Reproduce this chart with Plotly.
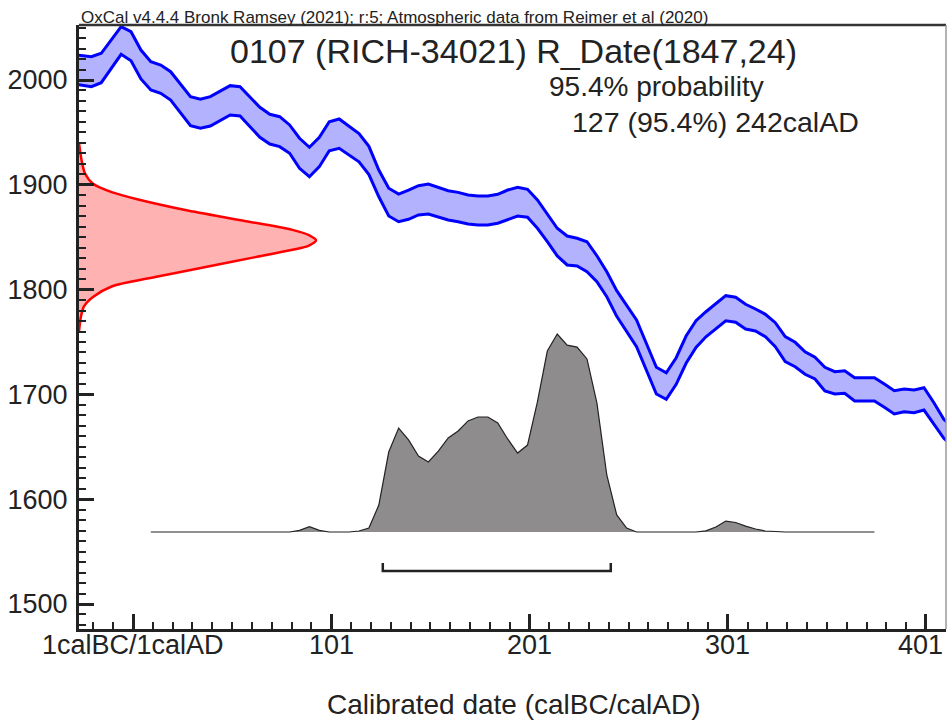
import plotly.graph_objects as go

# ---------------- data ----------------
# Calibration curve (IntCal20 band), calendar year vs radiocarbon age
curve_years = [-30, -20, -15, -5, 0, 5, 10, 15, 20, 30, 35, 40, 50, 55, 65, 70, 75, 80, 85, 90,
               95, 100, 105, 110, 115, 120, 125, 130, 135, 140, 145, 150, 155, 160, 165, 170,
               175, 180, 185, 190, 195, 200, 205, 210, 215, 220, 225, 230, 235, 240, 245, 255,
               260, 265, 270, 275, 280, 285, 290, 295, 300, 305, 310, 315, 320, 325, 330, 335,
               340, 345, 350, 355, 360, 365, 370, 375, 380, 385, 390, 395, 400, 405, 410, 415]
curve_upper = [2024.5, 2022.2, 2025.5, 2050.9, 2046.1, 2028.6, 2017.5, 2014.3, 2007.9, 1984.1,
               1981.6, 1984.1, 1994.6, 1993.6, 1973.9, 1967.3, 1965.0, 1957.1, 1944.4, 1935.8,
               1945.3, 1960.2, 1962.8, 1955.4, 1948.8, 1936.7, 1914.1, 1896.7, 1891.2, 1895.0,
               1899.1, 1900.8, 1897.6, 1894.4, 1892.8, 1890.3, 1889.3, 1889.3, 1890.9, 1895.0,
               1897.6, 1895.7, 1885.5, 1872.1, 1858.5, 1851.1, 1849.0, 1845.7, 1832.3, 1817.1,
               1799.0, 1771.0, 1748.8, 1725.9, 1720.7, 1735.0, 1755.7, 1770.3, 1778.9, 1786.9,
               1794.2, 1792.7, 1786.0, 1781.5, 1776.4, 1768.4, 1755.1, 1749.7, 1740.7, 1735.4,
               1725.9, 1721.7, 1722.6, 1715.9, 1715.9, 1715.9, 1709.9, 1703.5, 1705.2, 1704.2,
               1706.4, 1692.1, 1676.2, 1668.0]
curve_lower = [1996.5, 1993.6, 1997.4, 2024.5, 2018.4, 2001.0, 1990.5, 1987.3, 1980.9, 1956.4,
               1953.9, 1956.1, 1966.6, 1965.6, 1945.3, 1938.9, 1936.4, 1930.1, 1915.7, 1907.7,
               1917.3, 1932.5, 1934.8, 1928.4, 1922.0, 1909.8, 1888.6, 1870.2, 1864.8, 1867.1,
               1871.2, 1872.1, 1869.6, 1866.4, 1864.8, 1862.6, 1861.6, 1861.6, 1863.3, 1867.1,
               1870.2, 1869.0, 1858.5, 1845.7, 1832.1, 1823.5, 1822.5, 1817.1, 1807.5, 1793.2,
               1774.5, 1745.5, 1723.3, 1700.4, 1695.3, 1709.6, 1729.7, 1744.9, 1755.0, 1763.0,
               1770.3, 1768.8, 1762.4, 1760.5, 1755.0, 1745.5, 1731.2, 1726.4, 1719.2, 1714.7,
               1703.2, 1700.4, 1701.0, 1693.7, 1693.7, 1693.7, 1687.7, 1681.3, 1683.5, 1682.5,
               1685.1, 1671.5, 1658.1, 1650.0]

# Radiocarbon measurement R_Date(1847,24): age vs relative density
c14_age = [1940, 1930, 1920, 1911, 1901, 1893, 1886, 1876, 1866, 1857, 1852, 1847, 1842,
           1838, 1831, 1822, 1812, 1803, 1793, 1784, 1774, 1760]
c14_density = [0.0, 0.006, 0.014, 0.025, 0.059, 0.138, 0.25, 0.448, 0.689, 0.90, 0.97, 1.0,
               0.97, 0.90, 0.744, 0.545, 0.321, 0.138, 0.059, 0.021, 0.008, 0.0]

# Calibrated date distribution: calendar year vs relative probability
cal_years = [10, 80, 85, 90, 95, 100, 110, 115, 120, 125, 130, 135, 140, 145, 150, 155, 160,
             165, 170, 175, 180, 185, 190, 195, 200, 205, 210, 215, 220, 225, 230, 235, 240,
             245, 250, 255, 260, 285, 290, 295, 300, 305, 310, 315, 320, 330, 375]
cal_prob = [0.0, 0.0, 0.008, 0.027, 0.008, 0.0, 0.0, 0.005, 0.02, 0.136, 0.404, 0.525, 0.465,
            0.384, 0.354, 0.409, 0.475, 0.51, 0.561, 0.581, 0.581, 0.551, 0.47, 0.399, 0.439,
            0.657, 0.914, 1.0, 0.944, 0.934, 0.874, 0.652, 0.288, 0.086, 0.02, 0.0, 0.0, 0.0,
            0.006, 0.025, 0.055, 0.048, 0.03, 0.015, 0.005, 0.0, 0.0]

# 95.4% range
range_start = 127
range_end = 242

x_tickvals = [1, 101, 201, 301, 401]
x_ticktext = ["1calBC/1calAD", "101", "201", "301", "401"]
y_tickvals = [1500, 1600, 1700, 1800, 1900, 2000]
y_ticktext = ["1500", "1600", "1700", "1800", "1900", "2000"]

title_top = "OxCal v4.4.4 Bronk Ramsey (2021); r:5; Atmospheric data from Reimer et al (2020)"
title_main = "0107 (RICH-34021) R_Date(1847,24)"
prob_label = "95.4% probability"
range_label = "127 (95.4%) 242calAD"
x_title = "Calibrated date (calBC/calAD)"

# ---------------- figure ----------------
FONT = "Liberation Sans, Arial, sans-serif"
INK = "#222222"
X_MIN, X_MAX = -26.24, 411.1

fig = go.Figure()

# calibration curve band
fig.add_trace(go.Scatter(x=curve_years, y=curve_lower, mode="lines",
                         line=dict(color="#0000ff", width=3), hoverinfo="skip"))
fig.add_trace(go.Scatter(x=curve_years, y=curve_upper, mode="lines",
                         line=dict(color="#0000ff", width=3), fill="tonexty",
                         fillcolor="rgba(0,0,255,0.30)", hoverinfo="skip"))

# radiocarbon date distribution on y axis
fig.add_trace(go.Scatter(x=c14_density, y=c14_age, xaxis="x2", yaxis="y", mode="lines",
                         line=dict(color="#ff0000", width=2.5, shape="spline", smoothing=0.8),
                         fill="tozerox", fillcolor="rgba(255,0,0,0.30)", hoverinfo="skip"))

# calibrated distribution
fig.add_trace(go.Scatter(x=cal_years, y=cal_prob, xaxis="x", yaxis="y2", mode="lines",
                         line=dict(color=INK, width=1.2), fill="tozeroy",
                         fillcolor="#8e8c8d", hoverinfo="skip"))

# 95.4% range bracket
fig.add_trace(go.Scatter(x=[range_start, range_start, range_end, range_end],
                         y=[-0.157, -0.197, -0.197, -0.157], xaxis="x", yaxis="y2",
                         mode="lines", line=dict(color=INK, width=2.5), hoverinfo="skip"))

axis_common = dict(
    ticks="inside", ticklen=15, tickwidth=2.5, tickcolor=INK,
    showline=True, linewidth=3, linecolor=INK,
    showgrid=False, zeroline=False,
    tickfont=dict(family=FONT, size=27, color=INK),
)

# x tick labels drawn as annotations (placed close to the axis, last one kept inside page)
xtick_annotations = []
for i, (v, t) in enumerate(zip(x_tickvals, x_ticktext)):
    last = i == len(x_tickvals) - 1
    xtick_annotations.append(dict(
        text=t, xref="paper" if last else "x", yref="paper",
        x=1 if last else v, y=-0.0257,
        xanchor="right" if last else "center", yanchor="middle",
        xshift=-1 if last else 0, showarrow=False,
        font=dict(family=FONT, size=27, color=INK)))

fig.update_layout(
    width=947, height=720,
    margin=dict(l=79, r=1, t=25, b=91, pad=0),
    paper_bgcolor="white", plot_bgcolor="white",
    showlegend=False,
    xaxis=dict(range=[X_MIN, X_MAX], tickmode="array", tickvals=x_tickvals,
               showticklabels=False,
               minor=dict(ticks="inside", ticklen=7, tickwidth=2, tickcolor=INK,
                          tickmode="linear", tick0=1, dtick=10, showgrid=False),
               **axis_common),
    yaxis=dict(range=[1476.15, 2052.48], tickmode="array", tickvals=y_tickvals,
               ticktext=y_ticktext, ticklabelstandoff=3,
               minor=dict(ticks="inside", ticklen=7, tickwidth=2, tickcolor=INK,
                          tickmode="linear", tick0=1500, dtick=10, showgrid=False),
               **axis_common),
    xaxis2=dict(overlaying="x", range=[0, 3.658], visible=False),
    yaxis2=dict(overlaying="y", range=[-0.49, 2.561], visible=False),
    shapes=[
        dict(type="line", xref="paper", yref="paper", x0=0, x1=1, y0=1, y1=1,
             line=dict(color="#333333", width=2.5)),
        dict(type="line", xref="paper", yref="paper", x0=1, x1=1, y0=0, y1=1,
             line=dict(color="#999999", width=1.5)),
    ],
    annotations=xtick_annotations + [
        dict(text=title_top, xref="paper", yref="paper", x=0, y=1.0129,
             xanchor="left", yanchor="middle", showarrow=False,
             font=dict(family=FONT, size=17, color=INK)),
        dict(text=title_main, xref="paper", yref="paper", x=0.5006, y=0.957,
             xanchor="center", yanchor="middle", showarrow=False,
             font=dict(family=FONT, size=34, color=INK)),
        dict(text=prob_label, xref="paper", yref="paper", x=0.666, y=0.8987,
             xanchor="center", yanchor="middle", showarrow=False,
             font=dict(family=FONT, size=28, color=INK)),
        dict(text=range_label, xref="paper", yref="paper", x=0.7336, y=0.8386,
             xanchor="center", yanchor="middle", showarrow=False,
             font=dict(family=FONT, size=28.5, color=INK)),
        dict(text=x_title, xref="paper", yref="paper", x=0.5017, y=-0.1258,
             xanchor="center", yanchor="middle", showarrow=False,
             font=dict(family=FONT, size=28, color=INK)),
    ],
)

fig.write_html("out.html")
